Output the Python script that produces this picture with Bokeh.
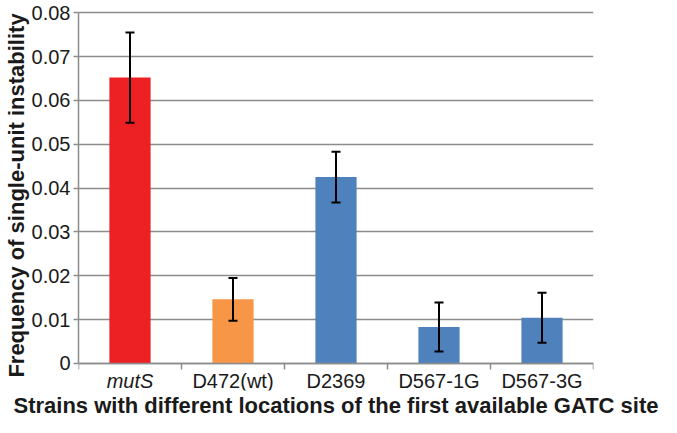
from bokeh.plotting import figure
from bokeh.models import Range1d, FixedTicker, Whisker, ColumnDataSource, TeeHead, Title
from bokeh.core.properties import value
from bokeh.embed import file_html
from bokeh.resources import INLINE

strains = ["mutS", "D472(wt)", "D2369", "D567-1G", "D567-3G"]
frequency = [0.0652, 0.0146, 0.0425, 0.0083, 0.0104]
error = [0.0103, 0.0049, 0.0058, 0.0056, 0.0057]
colors = ["#ED2024", "#F79646", "#4F81BD", "#4F81BD", "#4F81BD"]
y_ticks = [0, 0.01, 0.02, 0.03, 0.04, 0.05, 0.06, 0.07, 0.08]
y_tick_labels = ["0", "0.01", "0.02", "0.03", "0.04", "0.05", "0.06", "0.07", "0.08"]
x_title = "Strains with different locations of the first available GATC site"
y_title = "Frequency of single-unit instability"

FONT = "Liberation Sans"
TXT = "#1a1a1a"
GRAY = "#8C8C8C"

n = len(strains)
xpos = [i + 0.5 for i in range(n)]
bounds = [float(i) for i in range(n + 1)]

src = ColumnDataSource(dict(
    x=xpos, top=frequency, color=colors,
    upper=[f + e for f, e in zip(frequency, error)],
    lower=[f - e for f, e in zip(frequency, error)],
))

# the frame reaches below zero so the category labels sit inside it
p = figure(width=661, height=417, output_backend="svg", toolbar_location=None,
           x_range=Range1d(0, n), y_range=Range1d(-0.0062, 0.0828),
           min_border_left=75, min_border_right=68, min_border_top=0, min_border_bottom=0)
p.outline_line_color = None
p.background_fill_color = "white"
p.border_fill_color = "white"

p.vbar(x="x", top="top", width=0.4, color="color", source=src, line_color=None)

w = Whisker(base="x", upper="upper", lower="lower", source=src, level="overlay",
            line_width=2, line_color="black",
            upper_head=TeeHead(size=9, line_width=2, line_color="black"),
            lower_head=TeeHead(size=9, line_width=2, line_color="black"))
p.add_layout(w)

# x axis, drawn at y = 0
xa = p.xaxis[0]
xa.fixed_location = 0
xa.ticker = FixedTicker(ticks=xpos, minor_ticks=bounds)
xa.major_label_overrides = {x: ("" if i == 0 else s) for i, (x, s) in enumerate(zip(xpos, strains))}
xa.major_tick_out = 0
xa.major_tick_in = 0
xa.minor_tick_out = 6
xa.minor_tick_in = 0
xa.minor_tick_line_color = GRAY
xa.minor_tick_line_width = 1.5
xa.axis_line_color = GRAY
xa.axis_line_width = 1.5
xa.major_label_standoff = 1
xa.major_label_text_font = FONT
xa.major_label_text_font_size = "20px"
xa.major_label_text_color = TXT

# italic gene name under the first bar
p.text(x=xpos[:1], y=[0], text=strains[:1], text_font=value(FONT), text_font_size="20px",
       text_font_style="italic", text_color=TXT, text_align="center", text_baseline="top",
       y_offset=7)

# x title in its own panel below the frame
p.add_layout(Title(text=x_title, align="center", text_font=FONT, text_font_size="22px",
                   text_font_style="bold", text_color=TXT, standoff=0, offset=-2), "below")

# y axis
ya = p.yaxis[0]
ya.bounds = (y_ticks[0], y_ticks[-1])
ya.ticker = FixedTicker(ticks=y_ticks)
ya.major_label_overrides = {t: s for t, s in zip(y_ticks, y_tick_labels)}
ya.major_tick_out = 5
ya.major_tick_in = 0
ya.minor_tick_out = 0
ya.minor_tick_in = 0
ya.major_tick_line_color = GRAY
ya.major_tick_line_width = 1.5
ya.axis_line_color = GRAY
ya.axis_line_width = 1.5
ya.major_label_standoff = 3
ya.major_label_text_font = FONT
ya.major_label_text_font_size = "20px"
ya.major_label_text_color = TXT
ya.axis_label = y_title
ya.axis_label_text_font = FONT
ya.axis_label_text_font_size = "22px"
ya.axis_label_text_font_style = "bold"
ya.axis_label_text_color = TXT
ya.axis_label_standoff = 0

p.xgrid.grid_line_color = None
p.ygrid.ticker = FixedTicker(ticks=y_ticks)
p.ygrid.grid_line_color = GRAY
p.ygrid.grid_line_width = 1.5

open("out.html", "w").write(file_html(p, INLINE))
